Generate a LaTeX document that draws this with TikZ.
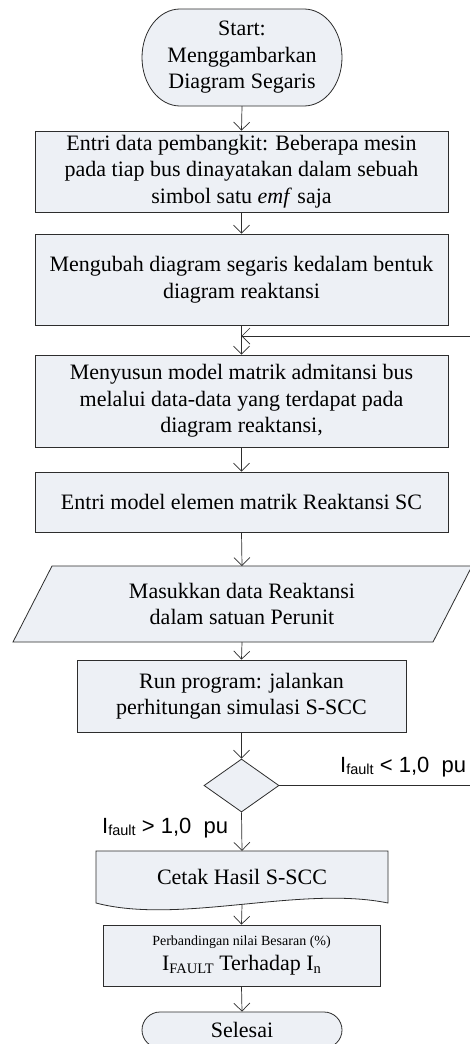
\documentclass[tikz,border=0pt]{standalone}
\usepackage{fontspec}
\setmainfont{Liberation Serif}
\newfontfamily\arialf{Liberation Sans}
\usetikzlibrary{arrows.meta,shapes.geometric,shapes.misc}
\definecolor{boxfill}{RGB}{237,240,245}
\definecolor{strk}{RGB}{45,45,45}
\tikzset{
  boxtext/.style={font=\fontsize{22}{26.5}\selectfont, align=center, inner sep=0pt},
  procbox/.style={boxtext, rectangle, draw=strk, fill=boxfill, line width=0.8pt},
  shapeline/.style={draw=strk, fill=boxfill, line width=0.8pt},
  arr/.style={draw=strk, line width=0.7pt, -{Straight Barb[length=8pt,width=16pt]}},
  lbl/.style={font=\arialf\fontsize{22}{26}\selectfont, inner sep=0pt, anchor=base west},
}
\newcommand{\sfsub}[1]{\raisebox{-2.5pt}{\fontsize{14.5}{14.5}\selectfont #1}}
\newcommand{\rmsub}[1]{\raisebox{-3pt}{\fontsize{14.5}{14.5}\selectfont #1}}
\begin{document}
\begin{tikzpicture}[x=1pt,y=-1pt]
\clip (0,0) rectangle (470,1044);
\fill[white] (0,0) rectangle (470,1044);

% start terminal
\draw[shapeline] (180,9) -- (304,9) arc[start angle=90,end angle=-90,x radius=38pt,y radius=48.5pt]
  -- (180,106) arc[start angle=270,end angle=90,x radius=38pt,y radius=48.5pt] -- cycle;
\node[boxtext, minimum width=200pt, minimum height=97pt] (start) at (242,57.5)
  {Start:\\Menggambarkan\\Diagram Segaris};

\node[procbox, minimum width=413pt, minimum height=81pt] (b1) at (241.5,171.5)
  {Entri data pembangkit: Beberapa mesin\\pada tiap bus dinayatakan dalam sebuah\\simbol satu \textit{emf} saja};
\node[procbox, minimum width=413pt, minimum height=91pt] (b2) at (241.5,279.5)
  {Mengubah diagram segaris kedalam bentuk\\diagram reaktansi};
\node[procbox, minimum width=413pt, minimum height=92pt] (b3) at (241.5,401)
  {Menyusun model matrik admitansi bus\\melalui data-data yang terdapat pada\\diagram reaktansi,};
\node[procbox, minimum width=413pt, minimum height=60pt] (b4) at (241.5,502)
  {Entri model elemen matrik Reaktansi SC};

% input parallelogram
\draw[shapeline] (52,566) -- (472,566) -- (433,642) -- (13,642) -- cycle;
\node[boxtext, minimum width=380pt, minimum height=76pt] (inp) at (242,604)
  {Masukkan data Reaktansi\\dalam satuan Perunit};

\node[procbox, minimum width=329pt, minimum height=72pt] (b5) at (241.5,696)
  {Run program: jalankan\\perhitungan simulasi S-SCC};

\node[diamond, shapeline, minimum width=75pt, minimum height=53pt, inner sep=0pt] (dia) at (241.5,785.5) {};

% document shape
\draw[shapeline] (96,851) -- (388,851) -- (388,903)
  .. controls (300,885) and (180,925) .. (96,903) -- cycle;
\node[boxtext, minimum width=292pt, minimum height=52pt] (doc) at (242,877)
  {Cetak Hasil S-SCC};

\node[procbox, minimum width=277pt, minimum height=61pt] (b6) at (241.5,955.5)
  {{\fontsize{14}{16}\selectfont Perbandingan nilai Besaran (\%)}\\[-2pt]
   I\rmsub{FAULT} Terhadap I\rmsub{n}};

\node[rounded rectangle, shapeline, boxtext, minimum width=200pt, minimum height=36pt] (fin) at (242,1030)
  {Selesai};

% labels
\node[lbl] (lblt) at (340,772) {I\sfsub{fault} < 1,0\ \ pu};
\node[lbl] (lblf) at (102,833) {I\sfsub{fault} > 1,0\ \ pu};

% connectors
\coordinate (fb) at (241.5,336);
\coordinate (fr1) at (474,785.5);
\coordinate (fr2) at (474,336);
\draw[arr] (start.south) -- (b1.north);
\draw[arr] (b1.south) -- (b2.north);
\draw[arr] (b2.south) -- (b3.north);
\draw[arr] (b3.south) -- (b4.north);
\draw[arr] (b4.south) -- (242,566);
\draw[arr] (242,642) -- (b5.north);
\draw[arr] (b5.south) -- (dia.north);
\draw[arr] (dia.south) -- (doc.north);
\draw[arr] ([yshift=-1.5pt]doc.south) -- (b6.north);
\draw[arr] (b6.south) -- (fin.north);
\draw[arr] (dia.east) -- (fr1) -- (fr2) -- (fb);
\end{tikzpicture}
\end{document}
